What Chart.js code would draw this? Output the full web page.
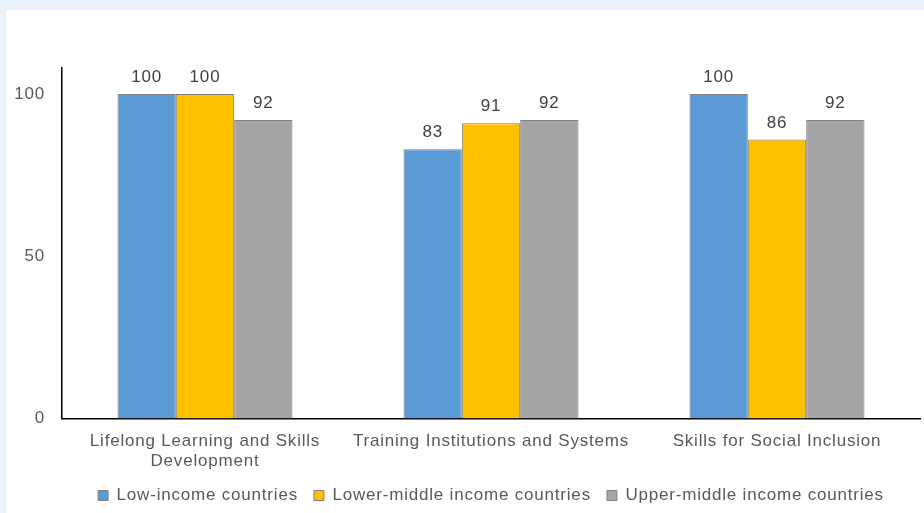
<!DOCTYPE html>
<html>
<head>
<meta charset="utf-8">
<script src="https://cdn.jsdelivr.net/npm/chart.js@4"></script>
<style>
  html, body { margin: 0; padding: 0; background: #EAF3FB; }
  #panel { position: absolute; left: 6px; top: 10px; width: 918px; height: 503px; background: #fff; overflow: hidden; }
  #panel canvas { display: block; }
</style>
</head>
<body>
<div id="panel"><canvas id="skillsChart" width="918" height="504"></canvas></div>
<script>
const categories = [
    ['Lifelong Learning and Skills', 'Development'],
    'Training Institutions and Systems',
    'Skills for Social Inclusion'
];
const seriesNames = ['Low-income countries', 'Lower-middle income countries', 'Upper-middle income countries'];
const lowIncome = [100, 83, 100];
const lowerMiddle = [100, 91, 86];
const upperMiddle = [92, 92, 92];
const yTicks = [0, 50, 100];
const colors = ['#5B9BD5', '#FFC000', '#A5A5A5'];

const fontFamily = 'Arial, "Liberation Sans", sans-serif';
const spacing = '0.8px';

// the reference text is a little wider spaced than canvas default
const letterSpacing = {
    id: 'letterSpacing',
    beforeLayout(chart) { chart.ctx.letterSpacing = spacing; },
    beforeDraw(chart) { chart.ctx.letterSpacing = spacing; }
};

// draw value labels above each bar
const barLabels = {
    id: 'barLabels',
    afterDatasetsDraw(chart) {
        const ctx = chart.ctx;
        ctx.save();
        ctx.font = '17px ' + fontFamily;
        ctx.fillStyle = '#404040';
        ctx.textAlign = 'center';
        ctx.textBaseline = 'bottom';
        chart.data.datasets.forEach((ds, i) => {
            chart.getDatasetMeta(i).data.forEach((bar, j) => {
                ctx.fillText(ds.data[j], bar.x, bar.y - 8);
            });
        });
        ctx.restore();
    }
};

const ctx = document.getElementById('skillsChart').getContext('2d');
new Chart(ctx, {
    type: 'bar',
    data: {
        labels: categories,
        datasets: [lowIncome, lowerMiddle, upperMiddle].map((vals, i) => ({
            label: seriesNames[i],
            data: vals,
            backgroundColor: colors[i],
            borderColor: '#808080',
            borderWidth: 1,
            categoryPercentage: 0.612,
            barPercentage: 1
        }))
    },
    options: {
        responsive: false,
        animation: false,
        layout: { padding: { top: 58, right: 4, left: 0, bottom: 0 } },
        scales: {
            x: {
                grid: { display: false, drawTicks: false },
                border: { color: '#000', width: 1.5 },
                ticks: { color: '#595959', font: { size: 17, family: fontFamily, lineHeight: 1.22 }, padding: 12, maxRotation: 0 },
                afterFit(axis) { axis.height -= 13; }
            },
            y: {
                min: 0,
                max: 108,
                afterBuildTicks(axis) { axis.ticks = yTicks.map(v => ({ value: v })); },
                afterFit(axis) { axis.width = 56; },
                grid: { display: false, drawTicks: false },
                border: { color: '#000', width: 1.5 },
                ticks: { color: '#595959', font: { size: 17, family: fontFamily }, padding: 17 }
            }
        },
        plugins: {
            legend: {
                position: 'bottom',
                fullSize: false,
                labels: {
                    color: '#595959',
                    font: { size: 17, family: fontFamily },
                    boxWidth: 10,
                    boxHeight: 10,
                    padding: 16
                }
            },
            tooltip: { enabled: false }
        }
    },
    plugins: [letterSpacing, barLabels]
});
</script>
</body>
</html>
